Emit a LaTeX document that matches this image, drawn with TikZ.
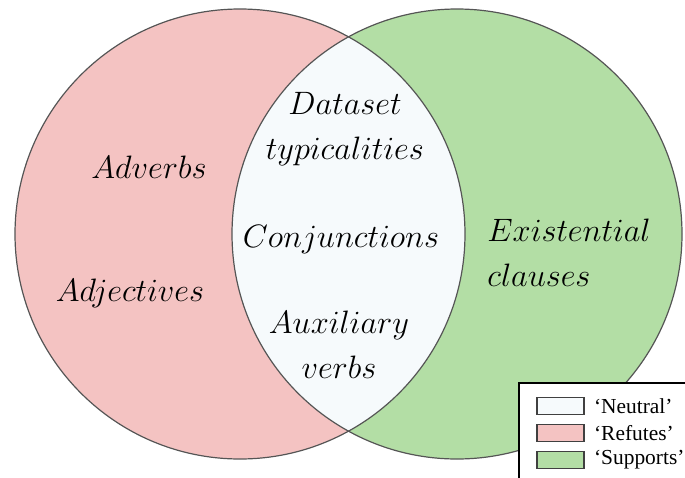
\RequirePackage{fix-cm}
\documentclass[tikz,border=0pt]{standalone}
\usepackage{amsmath,amssymb}
\usepackage{xcolor}
\usepackage{fontspec}
\newfontfamily\legendfont{Liberation Serif}
\usepackage{tikz}
\usetikzlibrary{positioning}
\definecolor{refutes}{HTML}{F4C3C2}
\definecolor{supports}{HTML}{B3DEA5}
\definecolor{neutral}{HTML}{F6FAFC}
\definecolor{rim}{HTML}{555555}
\tikzset{
  word/.style={font=\fontsize{16.2}{22.5}\selectfont, align=center, inner sep=0pt},
  swatch/.style={draw=black!75, line width=0.7pt, minimum width=23.5pt, minimum height=8.5pt, inner sep=0pt},
  keytext/.style={font=\legendfont\fontsize{10.7}{13}\selectfont, inner sep=0pt, anchor=west}
}

\begin{document}
\begin{tikzpicture}[x=0.5pt,y=-0.5pt]
		% Frame of the picture
		\useasboundingbox (0,0) rectangle (685,477);
		\clip (0,0) rectangle (685,477);
		% Fill the two circles
		\fill[refutes] (240,234) circle (225);
		\fill[supports] (457,234) circle (225);
		% Fill the overlap
		\begin{scope}
			\clip (240,234) circle (225);
			\fill[neutral] (457,234) circle (225);
		\end{scope}
		% Draw the outlines
		\draw[rim, line width=0.6pt] (240,234) circle (225);
		\draw[rim, line width=0.6pt] (457,234) circle (225);
		% Labels of the left circle
		\node[word] (adverbs) at (149,167) {$Adverbs$};
		\node[word] (adjectives) at (130,293) {$Adjectives$};
		% Labels of the overlap
		\node[word] (dataset) at (345,129) {$Dataset$\\$typicalities$};
		\node[word] (conj) at (341,240) {$Conjunctions$};
		\node[word] (aux) at (339,345) {$Auxiliary$\\$verbs$};
		% Labels of the right circle
		\node[word, align=left, anchor=west] (exist) at (487,253) {$Existential$\\$clauses$};
		% Legend
		\draw[black, fill=white, line width=0.8pt] (519,383) rectangle (700,500);
		\node[swatch, fill=neutral] (k1) at (560.5,406) {};
		\node[swatch, fill=refutes] (k2) at (560.5,433) {};
		\node[swatch, fill=supports] (k3) at (560.5,460) {};
		\node[keytext, right=4.5pt of k1] (t1) {‘Neutral’};
		\node[keytext, right=4.5pt of k2] (t2) {‘Refutes’};
		\node[keytext, right=4.5pt of k3] (t3) {‘Supports’};
\end{tikzpicture}
\end{document}
